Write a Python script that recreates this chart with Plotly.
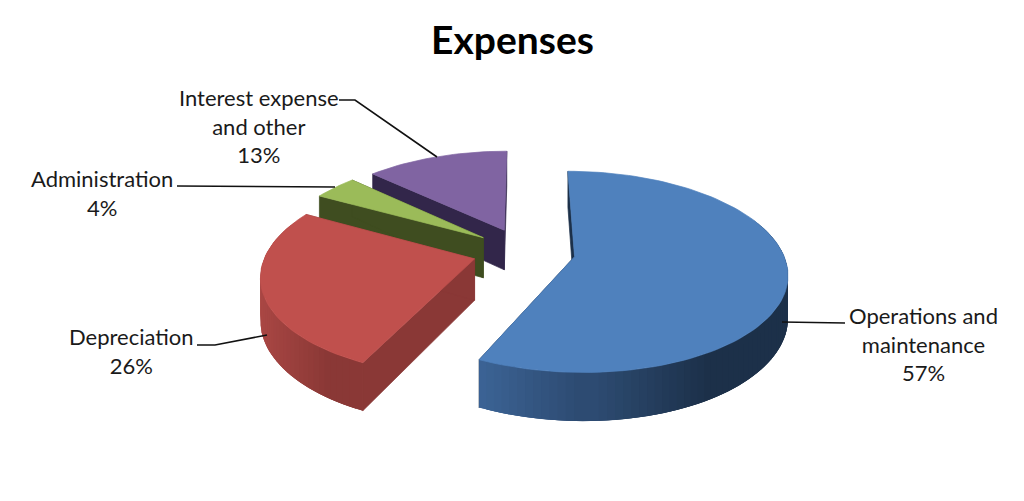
import numpy as np
import plotly.graph_objects as go

categories = ["Operations and maintenance", "Depreciation", "Administration", "Interest expense and other"]
values = [57, 26, 4, 13]
label_lines = [["Operations and", "maintenance"], ["Depreciation"], ["Administration"], ["Interest expense", "and other"]]
top_colors = ["#4f81bd", "#c0504d", "#9bbb59", "#8064a2"]
radial_colors = ["#1c3049", "#8a3836", "#3f4d20", "#32264a"]
wall_light = ["#3d6598", "#aa4744", "#4f6128", "#3a2c55"]
wall_dark = ["#1c3049", "#8a3836", "#3f4d20", "#32264a"]

OX, OY, RX, RY, PERSP, EXPLODE, DEPTH = 524, 251.4, 208, 96.7, 0.15, 0.247, 41


def project(X, Y, z=0.0):
    w = 1 + PERSP * Y
    return OX + RX * X / w, OY - RY * Y / w + z / w


def hex2rgb(h):
    return np.array([int(h[i:i + 2], 16) for i in (1, 3, 5)], float)


def mix(a, b, t):
    c = hex2rgb(a) * (1 - t) + hex2rgb(b) * t
    return "rgb(%d,%d,%d)" % tuple(c.round())


fig = go.Figure()


def poly(xs, ys, color, lw=0.7):
    fig.add_trace(go.Scatter(x=list(xs) + [xs[0]], y=list(ys) + [ys[0]], mode="lines", fill="toself",
                             fillcolor=color, line=dict(color=color, width=lw), hoverinfo="skip",
                             showlegend=False))


fractions = np.array(values, float) / sum(values)
ends = np.cumsum(fractions) * 2 * np.pi
starts = ends - fractions * 2 * np.pi

for i in [3, 2, 1, 0]:
    a0, a1 = starts[i], ends[i]
    mid = (a0 + a1) / 2
    cxw, cyw = EXPLODE * np.sin(mid), EXPLODE * np.cos(mid)
    n = max(8, int((a1 - a0) * 30))
    th = np.linspace(a0, a1, n + 1)
    Xa, Ya = cxw + np.sin(th), cyw + np.cos(th)
    sx, sy = project(Xa, Ya)
    bx, by = project(Xa, Ya, DEPTH)
    tx, ty = project(cxw, cyw)
    tbx, tby = project(cxw, cyw, DEPTH)
    # radial walls
    poly([tx, sx[0], bx[0], tbx], [ty, sy[0], by[0], tby], radial_colors[i])
    poly([tx, sx[-1], bx[-1], tbx], [ty, sy[-1], by[-1], tby], radial_colors[i])
    # outer wall, back to front; each strip overlaps the next so no seams show
    order = np.argsort(-(Ya[:-1] + Ya[1:]))
    visible = [k for k in range(n) if (Ya[k] + Ya[k + 1]) / 2 < cyw + 0.35]
    xmin, xmax = sx.min(), sx.min() + 0.72 * (sx.max() - sx.min())
    for k in order:
        if k not in visible:
            continue
        t = float(np.clip((((sx[k] + sx[k + 1]) / 2) - xmin) / (xmax - xmin), 0, 1))
        k0, k1 = max(k - 1, 0), min(k + 2, n)
        idx = list(range(k0, k1 + 1))
        poly(list(sx[idx]) + list(bx[idx][::-1]), list(sy[idx]) + list(by[idx][::-1]),
             mix(wall_light[i], wall_dark[i], t), lw=0)
    # top face
    poly([tx] + list(sx), [ty] + list(sy), top_colors[i])

# leader lines: one per category
leaders = {
    0: ([782, 845], [322, 323]),
    1: ([197, 215, 267], [345, 345, 335]),
    2: ([177, 335], [186, 187]),
    3: ([339, 355, 437], [100, 100, 157]),
}
for i in range(4):
    fig.add_trace(go.Scatter(x=leaders[i][0], y=leaders[i][1], mode="lines",
                             line=dict(color="#111111", width=1.6), hoverinfo="skip", showlegend=False))

label_pos = {0: (923, 344), 1: (131, 351), 2: (102, 193), 3: (259, 126)}
for i in range(4):
    text = "<br>".join(label_lines[i] + ["%d%%" % values[i]])
    fig.add_annotation(x=label_pos[i][0], y=label_pos[i][1], text=text, showarrow=False, xref="x", yref="y",
                       align="center", font=dict(family="Lato", size=22, color="#1a1a1a"))

fig.add_annotation(x=512, y=39, text="<b>Expenses</b>", showarrow=False, xref="x", yref="y",
                   font=dict(family="Lato", size=39, color="#000000"))

fig.update_layout(width=1024, height=501, margin=dict(l=0, r=0, t=0, b=0), paper_bgcolor="white",
                  plot_bgcolor="white", showlegend=False,
                  xaxis=dict(range=[0, 1024], visible=False, fixedrange=True),
                  yaxis=dict(range=[501, 0], visible=False, fixedrange=True))
fig.write_html("out.html", config={"displayModeBar": False},
               post_script="document.body.style.margin='0';document.documentElement.style.overflow='hidden';")
